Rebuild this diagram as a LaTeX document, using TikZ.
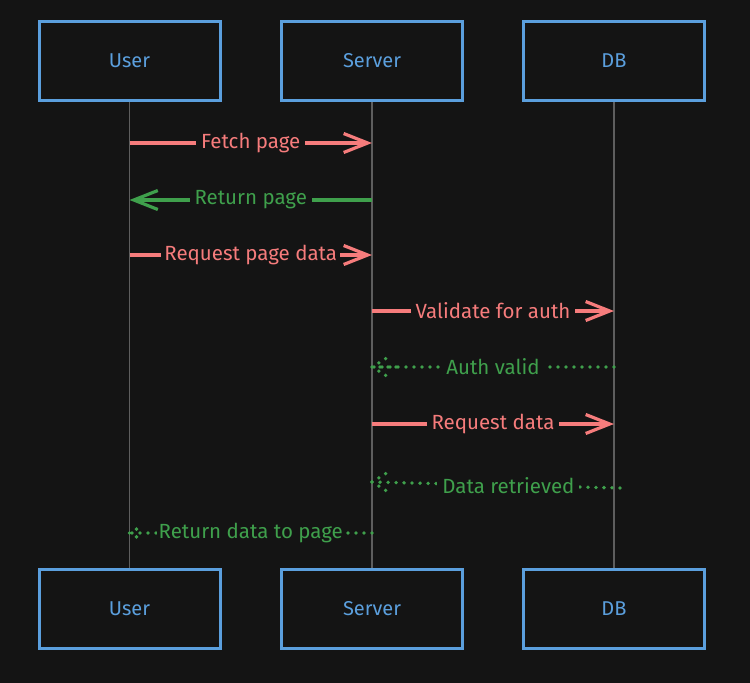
\documentclass[tikz,border=0pt]{standalone}
\usepackage{fontspec}
\setmainfont{Fira Sans}
\usetikzlibrary{arrows.meta}
\definecolor{bgc}{HTML}{141414}
\definecolor{boxblue}{HTML}{5B9FDD}
\definecolor{msgred}{HTML}{F67C7C}
\definecolor{msggreen}{HTML}{3FA04C}
\definecolor{lifegray}{HTML}{5E5E5E}
\tikzset{
  actor/.style={draw=boxblue, line width=3pt, minimum width=181pt, minimum height=79pt,
    text=boxblue, font=\fontsize{20}{24}\selectfont},
  lifeline/.style={draw=lifegray, line width=1.5pt},
  req/.style={draw=msgred, line width=3.2pt, -{Straight Barb[length=24pt,width=19pt,line width=3.2pt]}},
  retsolid/.style={draw=msggreen, line width=3.2pt, -{Straight Barb[length=24pt,width=19pt,line width=3.2pt]}},
  retdot/.style={draw=msggreen, line width=3.8pt, line cap=round, dash pattern=on 0pt off 8pt},
  lbl/.style={fill=bgc, inner xsep=5pt, inner ysep=2pt, font=\fontsize{20.5}{24}\selectfont},
  redlbl/.style={lbl, text=msgred},
  greenlbl/.style={lbl, text=msggreen},
}
\begin{document}
\begin{tikzpicture}[x=1pt, y=-1pt]
\fill[bgc] (0,0) rectangle (750,683);
\useasboundingbox (0,0) rectangle (750,683);

% actors
\node[actor] (uT) at (129.5,61) {User};
\node[actor] (sT) at (372,61) {Server};
\node[actor] (dT) at (614,61) {DB};
\node[actor] (uB) at (129.5,609) {User};
\node[actor] (sB) at (372,609) {Server};
\node[actor] (dB) at (614,609) {DB};

% lifelines
\draw[lifeline] (uT.south) -- (uB.north);
\draw[lifeline] (sT.south) -- (sB.north);
\draw[lifeline] (dT.south) -- (dB.north);

% message anchor points
\coordinate (u1) at (uT.south |- 0,143);
\coordinate (s1) at (sT.south |- 0,143);
\coordinate (u2) at (uT.south |- 0,200);
\coordinate (s2) at (sT.south |- 0,200);
\coordinate (u3) at (uT.south |- 0,255);
\coordinate (s3) at (sT.south |- 0,255);
\coordinate (s4) at (sT.south |- 0,311);
\coordinate (d4) at (dT.south |- 0,311);
\coordinate (s5) at (sT.south |- 0,367);
\coordinate (d5) at (dT.south |- 0,367);
\coordinate (s6) at (sT.south |- 0,424);
\coordinate (d6) at (dT.south |- 0,424);
\coordinate (s7) at (sT.south |- 0,482);
\coordinate (d7) at (620,488);
\coordinate (u8) at (uT.south |- 0,533);
\coordinate (s8) at (sT.south |- 0,533);

% messages
\draw[req] (u1) -- node[redlbl] {Fetch page} (s1);
\draw[retsolid] (s2) -- node[greenlbl] {Return page} (u2);
\draw[req] (u3) -- node[redlbl, inner xsep=3pt] {Request page data} (s3);
\draw[req] (s4) -- node[redlbl] {Validate for auth} (d4);
\draw[retdot] (d5) -- node[greenlbl] {Auth valid} (s5);
\draw[retdot] (s5) -- ++(18,-11) (s5) -- ++(18,11) (s5) -- ++(24,0);
\draw[req] (s6) -- node[redlbl] {Request data} (d6);
\draw[retdot] (d7) -- node[greenlbl, pos=0.45] {Data retrieved} (s7);
\draw[retdot] (s7) -- ++(18,-11) (s7) -- ++(18,11);
\draw[retdot] (s8) -- node[greenlbl, inner xsep=2pt] {Return data to page} (u8);
\draw[retdot] (u8) -- ++(9,-5) (u8) -- ++(9,5);
\end{tikzpicture}
\end{document}
